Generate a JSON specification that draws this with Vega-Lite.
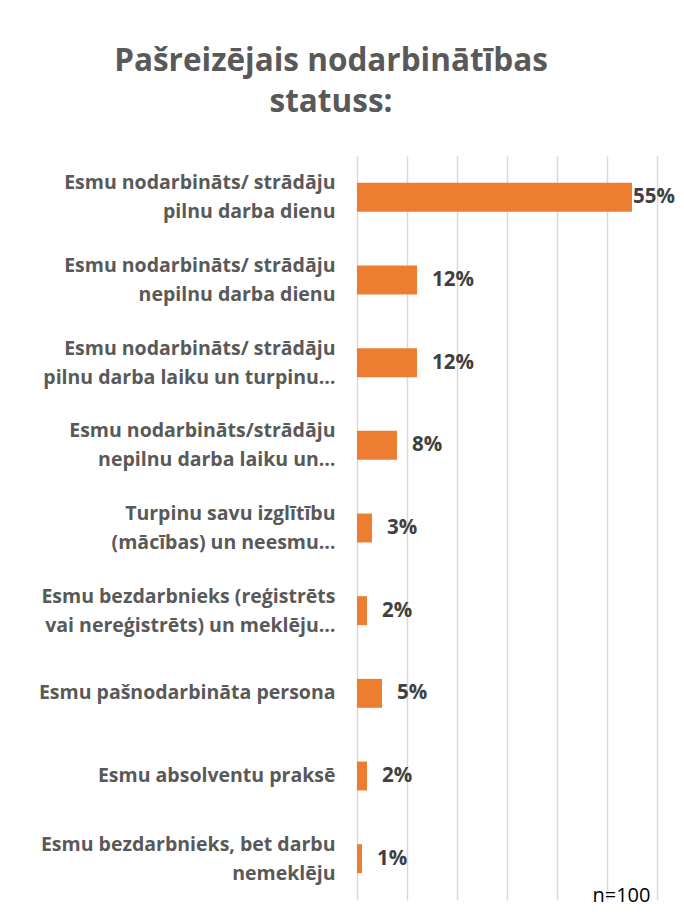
{
  "$schema": "https://vega.github.io/schema/vega-lite/v6.json",
  "width": 300,
  "height": 744,
  "autosize": {"type": "none"},
  "padding": {"left": 357, "top": 156, "right": 27, "bottom": 23},
  "background": "white",
  "title": {
    "text": ["Pašreizējais nodarbinātības", "statuss:"],
    "anchor": "middle",
    "dx": -176,
    "fontSize": 31.5,
    "font": "Open Sans",
    "fontWeight": "bold",
    "color": "#595959",
    "lineHeight": 41,
    "offset": 38
  },
  "config": {"view": {"stroke": null}},
  "data": {
    "values": [
      {"label": "Esmu nodarbināts/ strādāju|pilnu darba dienu", "value": 0.55},
      {"label": "Esmu nodarbināts/ strādāju|nepilnu darba dienu", "value": 0.12},
      {"label": "Esmu nodarbināts/ strādāju|pilnu darba laiku un turpinu…", "value": 0.12},
      {"label": "Esmu nodarbināts/strādāju|nepilnu darba laiku un…", "value": 0.08},
      {"label": "Turpinu savu izglītību|(mācības) un neesmu…", "value": 0.03},
      {"label": "Esmu bezdarbnieks (reģistrēts|vai nereģistrēts) un meklēju…", "value": 0.02},
      {"label": "Esmu pašnodarbināta persona", "value": 0.05},
      {"label": "Esmu absolventu praksē", "value": 0.02},
      {"label": "Esmu bezdarbnieks, bet darbu|nemeklēju", "value": 0.01}
    ]
  },
  "encoding": {
    "y": {
      "field": "label",
      "type": "nominal",
      "sort": null,
      "scale": {"paddingInner": 0.65, "paddingOuter": 0.325},
      "axis": {
        "title": null,
        "domain": false,
        "ticks": false,
        "labelExpr": "split(datum.value, '|')",
        "labelFont": "Open Sans",
        "labelFontWeight": "bold",
        "labelFontSize": 19.5,
        "labelColor": "#595959",
        "labelLimit": 400,
        "labelPadding": 22,
        "labelLineHeight": 29,
        "labelOffset": {"condition": {"test": "indexof(datum.value, '|') >= 0", "value": -14}, "value": 0}
      }
    },
    "x": {
      "field": "value",
      "type": "quantitative",
      "scale": {"domain": [0, 0.6]},
      "axis": {
        "values": [0, 0.1, 0.2, 0.3, 0.4, 0.5, 0.6],
        "labels": false,
        "ticks": false,
        "domain": false,
        "grid": true,
        "gridColor": "#D9D9D9",
        "gridWidth": 1.5,
        "title": "n=100",
        "titleFont": "Open Sans",
        "titleFontWeight": "normal",
        "titleFontSize": 20,
        "titleColor": "#000000",
        "titleAnchor": "end",
        "titleAlign": "right",
        "titleBaseline": "middle",
        "titleX": 293,
        "titleY": -5
      }
    }
  },
  "layer": [
    {"mark": {"type": "bar", "color": "#ED7D31"}},
    {
      "transform": [{"filter": "datum.value < 0.5"}],
      "mark": {"type": "text", "align": "left", "baseline": "middle", "dx": 15, "font": "Open Sans", "fontWeight": "bold", "fontSize": 20.5, "color": "#404040"},
      "encoding": {"text": {"field": "value", "type": "quantitative", "format": ".0%"}}
    },
    {
      "transform": [{"filter": "datum.value >= 0.5"}],
      "mark": {"type": "text", "align": "left", "baseline": "middle", "dx": 1, "font": "Open Sans", "fontWeight": "bold", "fontSize": 20.5, "color": "#404040"},
      "encoding": {"text": {"field": "value", "type": "quantitative", "format": ".0%"}}
    }
  ]
}
